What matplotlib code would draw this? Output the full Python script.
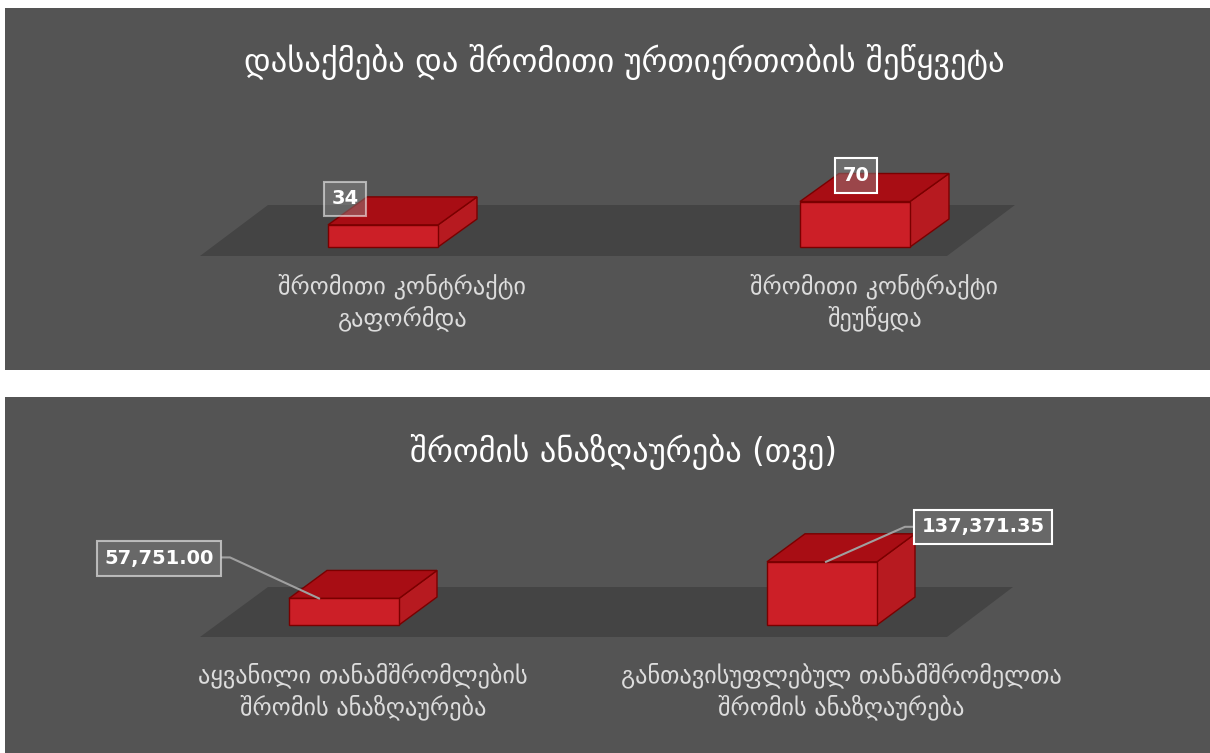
import matplotlib
matplotlib.use('Agg')
import matplotlib.pyplot as plt
from matplotlib.patches import Polygon, Rectangle

plt.rcParams['font.family'] = ['DejaVu Sans']

# chart data
titles = ['დასაქმება და შრომითი ურთიერთობის შეწყვეტა',
          'შრომის ანაზღაურება (თვე)']
cats_1 = ['შრომითი კონტრაქტი\nგაფორმდა', 'შრომითი კონტრაქტი\nშეუწყდა']
vals_1 = [34, 70]
labels_1 = ['34', '70']
cats_2 = ['აყვანილი თანამშრომლების\nშრომის ანაზღაურება',
          'განთავისუფლებულ თანამშრომელთა\nშრომის ანაზღაურება']
vals_2 = [57751.00, 137371.35]
labels_2 = ['57,751.00', '137,371.35']

W, H = 1210, 753
PANEL_BG = '#545454'
FLOOR = '#444444'
FRONT = '#cc1f27'
TOP = '#a80d14'
SIDE = '#b71a20'
EDGE = '#7a0000'

fig = plt.figure(figsize=(W / 100, H / 100), dpi=100)
fig.patch.set_facecolor('white')


def make_panel(top, bottom, c0, spacing, base, px_per_unit):
    # axes in data units: x = category index, y = value
    ax = fig.add_axes([5 / W, 1 - bottom / H, (W - 5) / W, (bottom - top) / H])
    ax.set_xlim((5 - c0) / spacing, (W - c0) / spacing)
    ax.set_ylim(-(bottom - base) / px_per_unit, (base - top) / px_per_unit)
    ax.axis('off')
    ax.add_patch(Rectangle((0, 0), 1, 1, transform=ax.transAxes,
                           facecolor=PANEL_BG, edgecolor='none', zorder=0))
    sx = 1 / spacing          # data per pixel in x
    sy = 1 / px_per_unit      # data per pixel in y

    def px(x, y):
        return ((x - c0) * sx, (base - y) * sy)
    return ax, sx, sy, px


def draw_bars(ax, sx, sy, cats, vals, bar_w, depth, cat_y):
    ddx, ddy = depth[0] * sx, depth[1] * sy
    hw = bar_w * sx / 2
    for i, v in enumerate(vals):
        x0, x1 = i - hw, i + hw
        ax.add_patch(Polygon([(x1, 0), (x1 + ddx, ddy), (x1 + ddx, v + ddy), (x1, v)],
                             facecolor=SIDE, edgecolor=EDGE, lw=1, zorder=2))
        ax.add_patch(Polygon([(x0, v), (x1, v), (x1 + ddx, v + ddy), (x0 + ddx, v + ddy)],
                             facecolor=TOP, edgecolor=EDGE, lw=1, zorder=2))
        ax.add_patch(Rectangle((x0, 0), x1 - x0, v, facecolor=FRONT,
                               edgecolor=EDGE, lw=1, zorder=3))
        ax.text(i + ddx / 2, cat_y, cats[i], ha='center', va='center',
                color='#dcdcdc', fontsize=17.5, linespacing=1.3)


# ---- panel 1
ax1, sx, sy, px = make_panel(8, 370, 383, 472, 247, 0.65)
ax1.text(*px(624, 62), titles[0], ha='center', va='center',
         color='white', fontsize=23.5)
ax1.add_patch(Polygon([px(200, 256), px(947, 256), px(1015, 205), px(268, 205)],
                      closed=True, facecolor=FLOOR, edgecolor='none', zorder=1))
draw_bars(ax1, sx, sy, cats_1, vals_1, 110, (39, 28), -(302 - 247) * sy)

box_offsets_1 = [(-38, 26), (1, 26)]
box_edges_1 = [(1, 1, 1, 0.55), 'white']
for i, v in enumerate(vals_1):
    ax1.annotate(labels_1[i], xy=(i, v), xytext=box_offsets_1[i],
                 textcoords='offset pixels', ha='center', va='center',
                 color='white', fontsize=14, fontweight='bold', zorder=6,
                 bbox=dict(boxstyle='square,pad=0.4', facecolor=(0.55, 0.55, 0.55, 0.45),
                           edgecolor=box_edges_1[i], lw=1.5))

# ---- panel 2
ax2, sx2, sy2, px2 = make_panel(397, 753, 344, 478, 625, 0.00046)
ax2.text(*px2(624, 452), titles[1], ha='center', va='center',
         color='white', fontsize=23.5)
ax2.add_patch(Polygon([px2(200, 637), px2(947, 637), px2(1013, 587), px2(268, 587)],
                      closed=True, facecolor=FLOOR, edgecolor='none', zorder=1))
draw_bars(ax2, sx2, sy2, cats_2, vals_2, 110, (38, 28), -(691 - 625) * sy2)

# value labels with leader lines (pixel offsets from the bar top)
box_offsets_2 = [(-185, 40), (161, 35)]
line_pts = [[(-25, 0), (-114, 41), (-125, 41)], [(4, 0), (83, 35), (95, 35)]]
box_edges_2 = [(0.85, 0.85, 0.85, 0.75), 'white']
for i, v in enumerate(vals_2):
    xs = [i + p[0] * sx2 for p in line_pts[i]]
    ys = [v + p[1] * sy2 for p in line_pts[i]]
    ax2.plot(xs, ys, color='#a0a0a0', lw=1.5, zorder=5)
    ax2.annotate(labels_2[i], xy=(i, v), xytext=box_offsets_2[i],
                 textcoords='offset pixels', ha='center', va='center',
                 color='white', fontsize=14, fontweight='bold', zorder=6,
                 bbox=dict(boxstyle='square,pad=0.4', facecolor='#686868',
                           edgecolor=box_edges_2[i], lw=1.5))

fig.savefig('out.png', dpi=100, facecolor='white')
